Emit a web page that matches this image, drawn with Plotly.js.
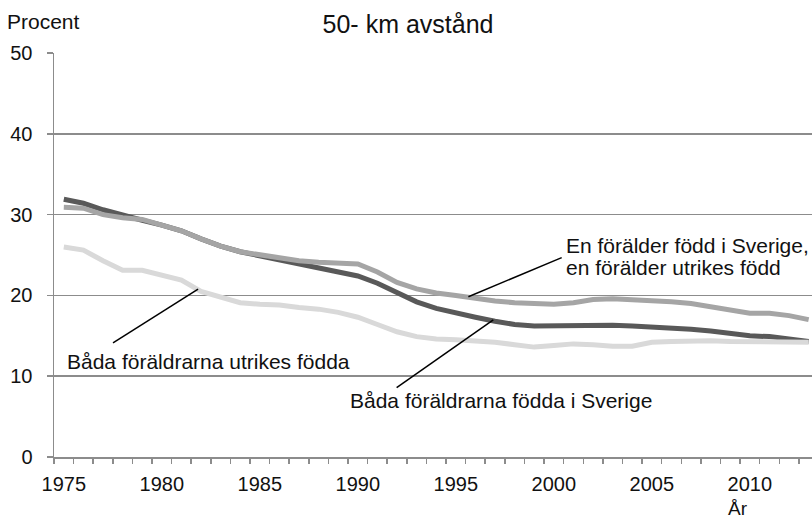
<!DOCTYPE html>
<html>
<head>
<meta charset="utf-8">
<script src="https://cdn.plot.ly/plotly-3.0.1.min.js"></script>
<style>
  html, body { margin: 0; padding: 0; background: #fff; }
  #chart { width: 812px; height: 521px; }
</style>
</head>
<body>
<div id="chart"></div>
<script>
// years on the x axis
const years = []
for (let y = 1975; y <= 2013; y++) years.push(y)

// Båda föräldrarna födda i Sverige
const sverige = [31.9, 31.4, 30.6, 29.9, 29.3, 28.7, 28.0, 27.0, 26.1, 25.4,
  24.9, 24.5, 24.0, 23.4, 22.9, 22.4, 21.5, 20.3, 19.2, 18.4,
  17.8, 17.3, 16.8, 16.4, 16.2, 16.25, 16.3, 16.4, 16.3, 16.2,
  16.1, 16.0, 15.8, 15.6, 15.3, 15.0, 14.9, 14.6, 14.3]

// En förälder född i Sverige, en förälder utrikes född
const enForalder = [30.9, 30.8, 30.0, 29.6, 29.4, 28.7, 28.0, 27.0, 26.1, 25.4,
  25.0, 24.6, 24.3, 24.1, 24.05, 23.9, 22.9, 21.6, 20.8, 20.3,
  20.0, 19.6, 19.3, 19.1, 19.0, 18.9, 19.1, 19.5, 19.6, 19.5,
  19.3, 19.2, 19.0, 18.6, 18.1, 17.8, 17.8, 17.5, 17.0]

// Båda föräldrarna utrikes födda
const utrikes = [26.0, 25.6, 24.3, 23.1, 23.1, 22.5, 21.9, 20.5, 19.8, 19.1,
  18.9, 18.8, 18.5, 18.3, 17.9, 17.3, 16.4, 15.5, 14.9, 14.6,
  14.5, 14.4, 14.2, 13.9, 13.6, 13.8, 14.0, 13.9, 13.7, 13.7,
  14.2, 14.3, 14.4, 14.4, 14.3, 14.3, 14.3, 14.3, 14.2]

const xTickVals = [1975, 1980, 1985, 1990, 1995, 2000, 2005, 2010]
const yTickVals = [0, 10, 20, 30, 40, 50]

const gray = "#8c8c8c"
const font = "Liberation Sans, Arial, sans-serif"

let traces = [
  { x: years, y: sverige, mode: "lines", line: { color: "#595959", width: 5 }, name: "Båda föräldrarna födda i Sverige" },
  { x: years, y: enForalder, mode: "lines", line: { color: "#a5a5a5", width: 5 }, name: "En förälder född i Sverige, en förälder utrikes född" },
  { x: years, y: utrikes, mode: "lines", line: { color: "#d9d9d9", width: 5 }, name: "Båda föräldrarna utrikes födda" }
]

// pointer lines from the labels to the series
function pointer(x0, y0, x1, y1) {
  return { type: "line", xref: "x", yref: "y", x0: x0, y0: y0, x1: x1, y1: y1,
    line: { color: "#000", width: 1.5 } }
}

// label placed by its left edge
function label(text, x, y) {
  return { text: text, xref: "x", yref: "y", x: x, y: y,
    xanchor: "left", yanchor: "middle", showarrow: false, font: { size: 21 } }
}

let layout = {
  width: 812,
  height: 521,
  margin: { l: 54, r: 0, t: 53, b: 64 },
  paper_bgcolor: "#fff",
  plot_bgcolor: "#fff",
  showlegend: false,
  font: { family: font, size: 20, color: "#111" },
  title: {
    text: "50- km avstånd",
    font: { size: 25, family: font, color: "#111" },
    x: 0.5025, xanchor: "center", xref: "container",
    y: 0.953, yanchor: "middle", yref: "container"
  },
  xaxis: {
    range: [1974.5, 2013.17],
    tickmode: "array",
    tickvals: xTickVals,
    ticks: "",
    showgrid: false,
    zeroline: false,
    showline: true,
    linecolor: gray,
    linewidth: 1.5,
    ticklabelstandoff: 8,
    tickfont: { size: 20, color: "#111" },
    minor: { ticks: "outside", tickmode: "linear", tick0: 1974.5, dtick: 1,
      ticklen: 5, tickcolor: gray, tickwidth: 1.5, showgrid: false }
  },
  yaxis: {
    range: [0, 50],
    tickmode: "array",
    tickvals: yTickVals,
    ticks: "outside",
    ticklen: 6,
    tickwidth: 1.5,
    tickcolor: gray,
    showgrid: true,
    gridcolor: gray,
    gridwidth: 1.5,
    zeroline: false,
    showline: true,
    linecolor: gray,
    linewidth: 1.5,
    ticklabelstandoff: 10,
    tickfont: { size: 20, color: "#111" }
  },
  shapes: [
    pointer(1977.51, 14.11, 1981.85, 20.79),
    pointer(1991.98, 8.58, 1996.91, 16.96),
    pointer(1995.64, 19.84, 2000.40, 24.67)
  ],
  annotations: [
    { text: "Procent", xref: "paper", yref: "paper", x: -0.0646, y: 1.077,
      xanchor: "left", yanchor: "middle", showarrow: false, font: { size: 21 } },
    { text: "År", xref: "x", yref: "paper", x: 2009.4, y: -0.127,
      xanchor: "center", yanchor: "middle", showarrow: false, font: { size: 19 } },
    label("Båda föräldrarna utrikes födda", 1975.06, 11.8),
    label("Båda föräldrarna födda i Sverige", 1989.5, 7.05),
    label("En förälder född i Sverige,", 2000.52, 26.2),
    label("en förälder utrikes född", 2000.52, 23.5)
  ]
}

Plotly.newPlot("chart", traces, layout, { displayModeBar: false, staticPlot: true })
</script>
</body>
</html>
